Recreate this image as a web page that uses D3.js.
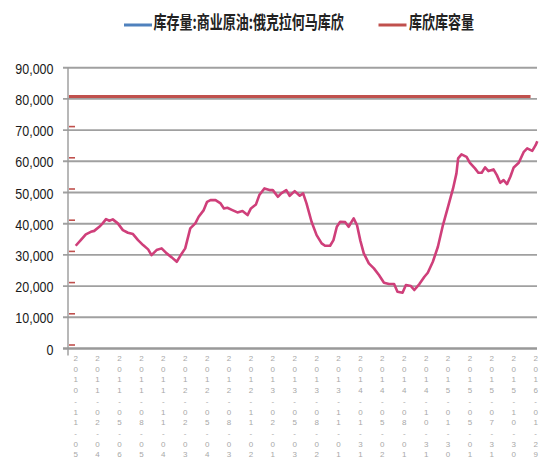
<!DOCTYPE html>
<html>
<head>
<meta charset="utf-8">
<script src="https://cdn.jsdelivr.net/npm/d3@7"></script>
<style>
  html, body { margin: 0; padding: 0; background: #fff; }
  svg { display: block; }
</style>
</head>
<body>
<svg id="chart" width="556" height="464"></svg>
<script>
// ---- data ----
const seriesNames = ["库存量:商业原油:俄克拉何马库欣", "库欣库容量"];
const stockDates = [
  "2010-11-05","2010-11-26","2010-12-17","2011-01-07","2011-01-21","2011-02-11","2011-02-25","2011-03-11",
  "2011-03-25","2011-04-08","2011-04-29","2011-05-20","2011-06-10","2011-07-01","2011-07-22","2011-08-12",
  "2011-09-02","2011-09-16","2011-10-07","2011-10-28","2011-11-18","2011-12-09","2011-12-30","2012-01-13",
  "2012-02-03","2012-02-24","2012-03-16","2012-03-30","2012-04-20","2012-05-04","2012-05-18","2012-06-08",
  "2012-06-29","2012-07-13","2012-07-27","2012-08-17","2012-09-07","2012-09-28","2012-10-19","2012-11-02",
  "2012-11-23","2012-12-07","2012-12-28","2013-01-18","2013-02-01","2013-02-22","2013-03-08","2013-03-29",
  "2013-04-12","2013-05-03","2013-05-24","2013-06-07","2013-06-21","2013-07-12","2013-08-02","2013-08-23",
  "2013-09-06","2013-09-27","2013-10-11","2013-10-25","2013-11-08","2013-11-29","2013-12-13","2014-01-03",
  "2014-01-17","2014-01-31","2014-02-14","2014-03-07","2014-03-28","2014-04-18","2014-05-09","2014-05-30",
  "2014-06-20","2014-07-04","2014-07-25","2014-08-08","2014-08-29","2014-09-12","2014-10-03","2014-10-24",
  "2014-11-07","2014-11-28","2014-12-19","2015-01-09","2015-01-30","2015-02-20","2015-03-06","2015-03-13",
  "2015-03-27","2015-04-17","2015-05-01","2015-05-22","2015-06-05","2015-06-19","2015-07-03","2015-07-17",
  "2015-08-07","2015-08-21","2015-09-04","2015-09-18","2015-10-02","2015-10-16","2015-10-30","2015-11-20",
  "2015-12-11","2015-12-25","2016-01-15","2016-01-29","2016-02-05"
];
const stockValues = [
  32930,34750,36580,37400,37700,39000,40100,41480,
  40950,41380,40100,37950,37100,36670,34750,33150,
  31770,29950,31550,32090,30490,29210,27800,29630,
  32090,38500,40100,42220,44360,47020,47560,47560,
  46500,44900,45100,44360,43620,44040,42760,44900,
  46180,49170,51310,50770,50770,48620,49710,50770,
  48950,50450,48950,49710,46500,40620,36350,33690,
  32930,32930,34750,39010,40620,40500,39010,41700,
  39500,34500,30490,27290,25690,23540,21080,20660,
  20660,18190,17870,20340,20020,18740,20660,23000,
  24280,27800,32610,39560,45420,51310,56120,60920,
  62200,61430,59510,57720,56310,56310,58040,56860,
  57400,55570,53110,53970,52690,55030,58040,59510,
  63040,64120,63360,65180,66460
];
const capacityDates = ["2010-10-08", "2016-01-08"];
const capacityValues = [80800, 80800];
const yTicks = [0,10000,20000,30000,40000,50000,60000,70000,80000,90000];
const xLabelDates = [
  "2010-11-05","2011-02-04","2011-05-06","2011-08-05","2011-11-04","2012-02-03","2012-05-04","2012-08-03",
  "2012-11-02","2013-02-01","2013-05-03","2013-08-02","2013-11-01","2014-01-31","2014-05-02","2014-08-01",
  "2014-10-31","2015-01-30","2015-05-01","2015-07-31","2015-10-30","2016-01-29"
];

// ---- layout ----
const parse = d3.timeParse("%Y-%m-%d");
const svg = d3.select("#chart");
const plotLeft = 68, plotRight = 537, plotTop = 67.7, plotBottom = 348.5;

const x = d3.scaleTime()
  .domain([parse("2010-11-05"), parse("2016-02-05")])
  .range([75.7, 537.3]);
const y = d3.scaleLinear().domain([0, 90000]).range([plotBottom, plotTop]);

const colStock = "#cf3f7a";
const colCap = "#c0504d";
const colLegendBlue = "#4f81bd";

// gridlines (with outward tick)
const grid = svg.append("g");
grid.selectAll("line.grid").data(yTicks.filter(t => t > 0)).enter().append("line")
  .attr("x1", plotLeft - 5).attr("x2", plotRight)
  .attr("y1", d => y(d)).attr("y2", d => y(d))
  .attr("stroke", "#a0a0a0").attr("stroke-width", 1.9);

// bottom axis
svg.append("line")
  .attr("x1", plotLeft - 5).attr("x2", plotRight)
  .attr("y1", y(0)).attr("y2", y(0))
  .attr("stroke", "#999").attr("stroke-width", 2.4);

// vertical axis
svg.append("line")
  .attr("x1", plotLeft).attr("x2", plotLeft)
  .attr("y1", y(90000)).attr("y2", y(0) + 7)
  .attr("stroke", "#9a9a9a").attr("stroke-width", 1.4);

// small red stubs next to the axis
svg.append("g").selectAll("line").data(yTicks.filter(t => t < 80000)).enter().append("line")
  .attr("x1", plotLeft + 1).attr("x2", plotLeft + 7)
  .attr("y1", d => y(d) - 3.5).attr("y2", d => y(d) - 3.5)
  .attr("stroke", colCap).attr("stroke-width", 1.6);

// y tick labels
svg.append("g").selectAll("text").data(yTicks).enter().append("text")
  .attr("transform", d => `translate(53.5,${y(d) + 2.5}) scale(1,1.1)`)
  .attr("text-anchor", "end")
  .attr("dominant-baseline", "middle")
  .attr("font-family", "'Liberation Sans', Arial, sans-serif")
  .attr("font-size", 12.5)
  .attr("fill", "#1a1a1a")
  .text(d => d3.format(",")(d));

// x tick labels (stacked characters)
const fmt = d3.timeFormat("%Y-%m-%d");
const xl = svg.append("g").selectAll("text").data(xLabelDates).enter().append("text")
  .attr("x", d => x(parse(d)))
  .attr("y", 361)
  .attr("text-anchor", "middle")
  .attr("font-family", "'Liberation Sans', Arial, sans-serif")
  .attr("font-size", 8)
  .attr("fill", "#a8a8a8");
xl.each(function(d) {
  const chars = fmt(parse(d)).split("");
  d3.select(this).selectAll("tspan").data(chars).enter().append("tspan")
    .attr("x", x(parse(d)))
    .attr("dy", (c, i) => i === 0 ? 0 : 10.7)
    .text(c => c);
});

// capacity line
const capData = capacityDates.map((d, i) => ({ date: parse(d), value: capacityValues[i] }));
const line = d3.line().x(d => x(d.date)).y(d => y(d.value));
svg.append("path").datum(capData)
  .attr("d", line)
  .attr("fill", "none").attr("stroke", colCap).attr("stroke-width", 3);

// stock line
const stockData = stockDates.map((d, i) => ({ date: parse(d), value: stockValues[i] }));
svg.append("path").datum(stockData)
  .attr("d", line)
  .attr("fill", "none").attr("stroke", colStock).attr("stroke-width", 2.6)
  .attr("stroke-linejoin", "round");

// legend
const legend = svg.append("g");
const legendItems = [
  { name: seriesNames[0], color: colLegendBlue, lx: 124, tx: 153.5 },
  { name: seriesNames[1], color: colCap, lx: 378.5, tx: 409 }
];
legendItems.forEach(it => {
  legend.append("line")
    .attr("x1", it.lx).attr("x2", it.lx + 28)
    .attr("y1", 25).attr("y2", 25)
    .attr("stroke", it.color).attr("stroke-width", 3);
  legend.append("text")
    .attr("transform", `translate(${it.tx},24.5) scale(1,1.38)`)
    .attr("dominant-baseline", "middle")
    .attr("font-family", "'Noto Sans CJK SC', sans-serif")
    .attr("font-size", 13)
    .attr("font-weight", "bold")
    .attr("fill", "#222")
    .text(it.name);
});
</script>
</body>
</html>
